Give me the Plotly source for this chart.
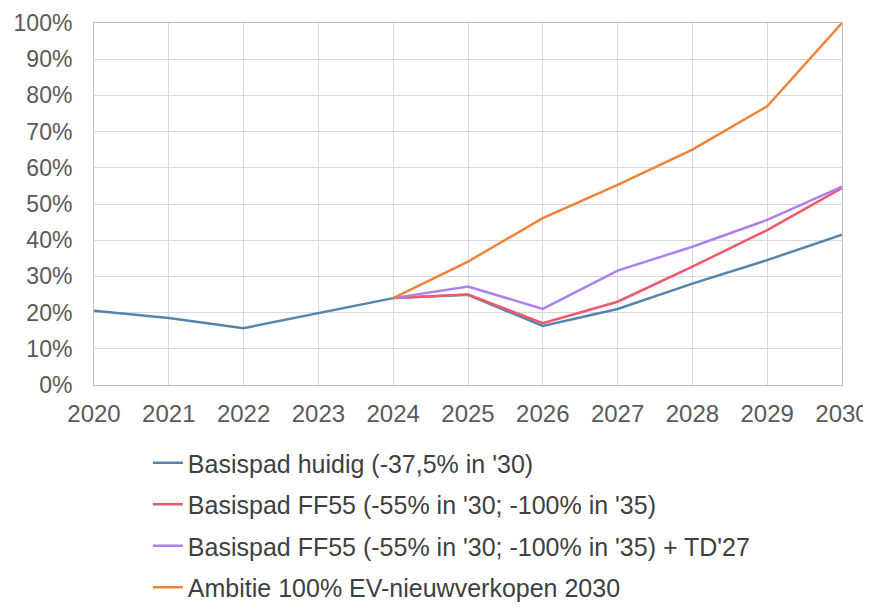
import plotly.graph_objects as go

years = [2020, 2021, 2022, 2023, 2024, 2025, 2026, 2027, 2028, 2029, 2030]
basis_huidig = [20.5, 18.5, 15.7, 19.8, 24.0, 24.9, 16.3, 21.0, 28.0, 34.5, 41.5]
basis_ff55 = [None, None, None, None, 24.0, 25.0, 17.1, 23.0, 32.7, 42.8, 54.4]
basis_ff55_td = [None, None, None, None, 24.0, 27.2, 21.0, 31.6, 38.2, 45.6, 54.8]
ambitie = [None, None, None, None, 24.0, 34.1, 46.1, 55.3, 65.0, 77.0, 100.0]

names = [
    "Basispad huidig (-37,5% in '30)",
    "Basispad FF55 (-55% in '30; -100% in '35)",
    "Basispad FF55 (-55% in '30; -100% in '35) + TD'27",
    "Ambitie 100% EV-nieuwverkopen 2030",
]
series = [basis_huidig, basis_ff55, basis_ff55_td, ambitie]
colors = ["#5585ad", "#f0596b", "#ad80f2", "#ef8438"]

fig = go.Figure()
for i, (n, s, c) in enumerate(zip(names, series, colors)):
    fig.add_trace(go.Scatter(
        x=years, y=[v / 100 if v is not None else None for v in s],
        mode="lines", name=n, legendgroup=f"g{i}",
        line=dict(color=c, width=2.5),
    ))

fig.update_layout(
    width=863, height=597,
    margin=dict(l=86, r=29, t=15, b=220, autoexpand=False),
    paper_bgcolor="white", plot_bgcolor="white",
    font=dict(family="Liberation Sans, Arial, sans-serif", color="#595959", size=24),
    showlegend=True,
    legend=dict(
        orientation="v", x=0.072, xanchor="left", y=-0.152, yanchor="top",
        font=dict(size=25, color="#404040"), tracegroupgap=6,
        bgcolor="rgba(0,0,0,0)",
    ),
)
fig.update_xaxes(
    range=[2020, 2030], dtick=1, tick0=2020,
    showgrid=True, gridcolor="#d9d9d9", gridwidth=1,
    showline=True, linecolor="#bfbfbf", linewidth=1,
    mirror=True, ticks="", ticklabelstandoff=7,
    tickfont=dict(size=24, color="#595959"), zeroline=False,
)
fig.update_yaxes(
    range=[0, 1], dtick=0.1, tickformat=".0%",
    showgrid=True, gridcolor="#d9d9d9", gridwidth=1,
    showline=True, linecolor="#bfbfbf", linewidth=1,
    mirror=True, ticks="", ticklabelstandoff=16,
    tickfont=dict(size=23, color="#595959"), zeroline=False,
)

fig.write_html("out.html")
